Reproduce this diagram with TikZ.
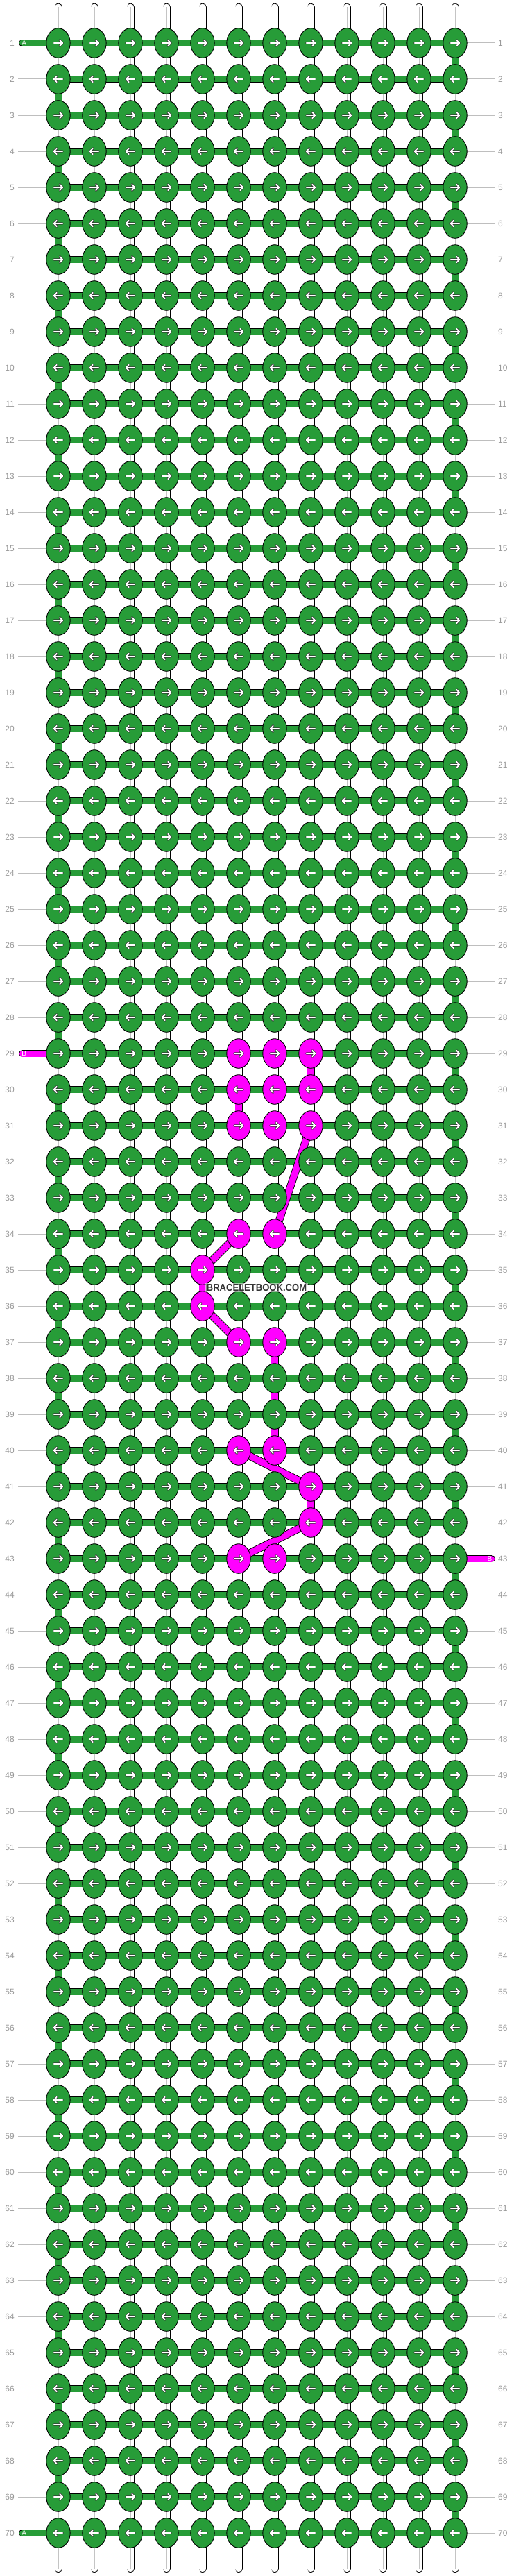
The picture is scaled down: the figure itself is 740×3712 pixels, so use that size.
\documentclass[tikz,border=0pt]{standalone}
\usepackage{fontspec}
\setmainfont{Liberation Sans}
\newfontfamily\wmfont[FakeStretch=0.9]{Liberation Sans}
\usetikzlibrary{shapes.geometric}
\definecolor{grn}{HTML}{279C38}
\definecolor{mag}{HTML}{FF00FF}
\definecolor{lblc}{HTML}{9A9A9A}
\definecolor{linec}{HTML}{BEBEBE}
\definecolor{midc}{HTML}{C4C4C4}
\definecolor{wmc}{HTML}{333333}
\tikzset{
  knot/.style={ellipse, draw=black, line width=0.9pt, minimum width=34.4pt, minimum height=42.6pt, inner sep=0pt},
  vout/.style={draw=black, line width=11pt},
  vin/.style={line width=9.2pt},
  vmid/.style={draw=midc, line width=0.9pt},
  hout/.style={draw=black, line width=10.8pt},
  hin/.style={draw=grn, line width=9pt},
  tubeout/.style={draw=black, line width=11pt, line cap=round},
  tubein/.style={draw=white, line width=9.2pt, line cap=round},
  tabout/.style={draw=black, line width=10.8pt, line cap=round},
  tabin/.style={line width=9pt, line cap=round},
  dout/.style={draw=black, line width=11.2pt},
  din/.style={draw=mag, line width=9.4pt},
  lbl/.style={text=lblc, font=\fontsize{12}{12}\selectfont, inner sep=0pt},
  lblline/.style={draw=linec, line width=1pt},
  tabtxt/.style={text=white, font=\fontsize{10}{10}\selectfont, inner sep=0pt},
  wm/.style={text=wmc, font=\wmfont\bfseries\fontsize{14.5}{15}\selectfont, fill=white, fill opacity=0.55, text opacity=1, inner sep=1.5pt},
  arrowpic/.pic={
    \draw[black!80, line width=3.4pt, line cap=round, line join=round] (-6.2,0)--(6.2,0) (2.2,-4.2)--(6.2,0)--(2.2,4.2);
    \draw[white, line width=1.9pt, line cap=round, line join=round] (-6.2,0)--(6.2,0) (2.2,-4.2)--(6.2,0)--(2.2,4.2);
  }
}
\foreach \p in {29-6,29-7,29-8,30-6,30-7,30-8,31-6,31-7,31-8,34-6,34-7,35-5,36-5,37-6,37-7,40-6,40-7,41-8,42-8,43-6,43-7}{\expandafter\gdef\csname mk\p\endcsname{}}
\foreach \p in {29-8,30-6,35-5,37-7,38-7,39-7,41-8}{\expandafter\gdef\csname mv\p\endcsname{}}
\begin{document}
\begin{tikzpicture}[x=1pt,y=-1pt]
\useasboundingbox[fill=white] (0,0) rectangle (740,3712);
% grid coordinates
\foreach \r in {1,...,70}{
  \foreach \c in {1,...,12}{
    \coordinate (p-\r-\c) at ({84+52*(\c-1)},{62+52*(\r-1)});
  }
  \coordinate (lc-\r) at (26,{62+52*(\r-1)});
  \coordinate (rc-\r) at (713,{62+52*(\r-1)});
}
% top and bottom tubes
\foreach \c in {1,...,12}{
  \coordinate (tt-\c) at ({84+52*(\c-1)},10.2);
  \coordinate (tb-\c) at ({84+52*(\c-1)},3701.5);
  \draw[tubeout] (tt-\c) -- (p-1-\c);
  \draw[tubein] (tt-\c) -- (p-1-\c);
  \draw[vmid] (tt-\c) -- (p-1-\c);
  \draw[tubeout] (tb-\c) -- (p-70-\c);
  \draw[tubein] (tb-\c) -- (p-70-\c);
  \draw[vmid] (tb-\c) -- (p-70-\c);
}
% row label lines
\foreach \r in {2,...,28,30,31,...,69}{\draw[lblline] (lc-\r) -- (p-\r-1);}
\foreach \r in {1,...,42,44,45,...,70}{\draw[lblline] (p-\r-12) -- (rc-\r);}
% vertical connectors
\foreach \r in {1,...,69}{
  \pgfmathtruncatemacro\rn{\r+1}
  \pgfmathtruncatemacro\ec{mod(\r,2)==1 ? 12 : 1}
  \foreach \c in {1,...,12}{
    \ifcsname mv\r-\c\endcsname \def\vc{mag}\def\vl{0}%
    \else\ifnum\c=\ec\relax \def\vc{grn}\def\vl{0}\else\def\vc{white}\def\vl{1}\fi\fi
    \draw[vout] (p-\r-\c) -- (p-\rn-\c);
    \draw[vin, draw=\vc] (p-\r-\c) -- (p-\rn-\c);
    \ifnum\vl=1\relax \draw[vmid] (p-\r-\c) -- (p-\rn-\c);\fi
  }
}
% tabs
\coordinate (ta-1) at (32.5,62);
\coordinate (ta-70) at (32.5,3650);
\coordinate (tbl-29) at (32.5,1518);
\coordinate (tbr-43) at (708.6,2246);
\draw[tabout] (ta-1) -- (p-1-1);  \draw[tabin, draw=grn] (ta-1) -- (p-1-1);
\draw[tabout] (ta-70) -- (p-70-1);  \draw[tabin, draw=grn] (ta-70) -- (p-70-1);
\draw[tabout] (tbl-29) -- (p-29-1);  \draw[tabin, draw=mag] (tbl-29) -- (p-29-1);
\draw[tabout] (tbr-43) -- (p-43-12);  \draw[tabin, draw=mag] (tbr-43) -- (p-43-12);
% horizontal bars
\foreach \r in {1,...,70}{
  \draw[hout] (p-\r-1) -- (p-\r-12);
  \draw[hin] (p-\r-1) -- (p-\r-12);
}
% magenta diagonals
\foreach \a/\b in {31-8/34-7, 34-6/35-5, 36-5/37-6, 40-6/41-8, 42-8/43-6}{
  \draw[dout] (p-\a) -- (p-\b);
  \draw[din] (p-\a) -- (p-\b);
}
% knots and arrows
\foreach \r in {1,...,70}{
  \pgfmathtruncatemacro\od{mod(\r,2)}
  \foreach \c in {1,...,12}{
    \ifcsname mk\r-\c\endcsname\def\kc{mag}\else\def\kc{grn}\fi
    \node[knot, fill=\kc] (k-\r-\c) at (p-\r-\c) {};
    \ifnum\od=1\relax
      \pic at (k-\r-\c) {arrowpic};
    \else
      \pic[rotate=180] at (k-\r-\c) {arrowpic};
    \fi
  }
  \node[lbl, anchor=east] (ll-\r) at ({21},{62+52*(\r-1)}) {\r};
  \node[lbl, anchor=west] (rl-\r) at ({718},{62+52*(\r-1)}) {\r};
}
% tab letters
\node[tabtxt] (tl-1) at (34.7,62) {A};
\node[tabtxt] (tl-70) at (34.7,3650) {A};
\node[tabtxt] (tl-29) at (34.7,1518) {B};
\node[tabtxt] (tr-43) at (706,2246) {B};
% watermark
\node[wm] (wmark) at (370,1855.5) {BRACELETBOOK.COM};
\end{tikzpicture}
\end{document}
